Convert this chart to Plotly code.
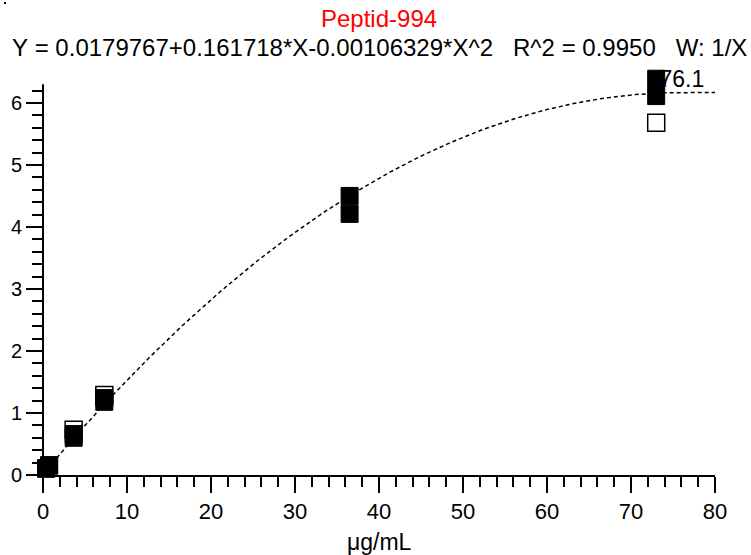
import numpy as np
import plotly.graph_objects as go

# ---- data ----
conc = [0.365, 0.365, 0.73, 0.73, 3.65, 3.65, 7.3, 7.3, 36.5, 36.5, 73.0, 73.0]
resp = [0.10, 0.11, 0.15, 0.16, 0.66, 0.60, 1.24, 1.18, 4.50, 4.21, 6.39, 6.11]
excl_conc = [3.65, 7.3, 73.0]
excl_resp = [0.73, 1.29, 5.68]

b0, b1, b2 = 0.0179767, 0.161718, -0.00106329
vertex_label = "76.1"
title_text = "Peptid-994"
eq_text = "Y = 0.0179767+0.161718*X-0.00106329*X^2   R^2 = 0.9950   W: 1/X"
x_title = "μg/mL"
x_ticks = [0, 10, 20, 30, 40, 50, 60, 70, 80]
y_ticks = [0, 1, 2, 3, 4, 5, 6]
y_minor = [round(0.2 * i, 1) for i in range(32) if i % 5 != 0]

# fitted curve (quadratic, held flat after the vertex)
x_vertex = -b1 / (2 * b2)
y_vertex = b0 + b1 * x_vertex + b2 * x_vertex ** 2
xf = np.linspace(0, 80, 400)
xe = np.minimum(xf, x_vertex)
yf = b0 + b1 * xe + b2 * xe ** 2

FONT = "Liberation Sans, Arial, sans-serif"
Y_TOP = 6.45

fig = go.Figure()
fig.add_trace(go.Scatter(x=xf, y=yf, mode="lines",
                         line=dict(color="black", width=1.5, dash="4px,3px"),
                         hoverinfo="skip", cliponaxis=False))
fig.add_trace(go.Scatter(x=[x_vertex], y=[y_vertex], mode="text",
                         text=[vertex_label], textposition="top center",
                         textfont=dict(family=FONT, size=23, color="black"),
                         cliponaxis=False))
fig.add_trace(go.Scatter(x=excl_conc, y=excl_resp, mode="markers",
                         marker=dict(symbol="square-open", size=17, color="black",
                                     line=dict(width=1.5, color="black")),
                         cliponaxis=False))
fig.add_trace(go.Scatter(x=conc, y=resp, mode="markers",
                         marker=dict(symbol="square", size=17, color="black",
                                     line=dict(width=1, color="black")),
                         cliponaxis=False))

axis_common = dict(linecolor="black", linewidth=2, showgrid=False, automargin=False,
                   zeroline=False, ticks="outside", tickcolor="black", tickwidth=2,
                   ticklen=16)

fig.update_xaxes(range=[0, 80], tickvals=x_ticks, showline=True, **axis_common,
                 tickfont=dict(family=FONT, size=22, color="black"),
                 minor=dict(dtick=2, ticks="outside", ticklen=10, tickwidth=2,
                            tickcolor="black", showgrid=False))
fig.update_yaxes(range=[0, Y_TOP], tickvals=y_ticks, showline=False, **axis_common,
                 tickfont=dict(family=FONT, size=20, color="black"),
                 minor=dict(tickvals=y_minor, ticks="outside", ticklen=10, tickwidth=2,
                            tickcolor="black", showgrid=False))
# y axis line (stops a little above the last minor tick)
fig.add_shape(type="line", xref="x domain", yref="y", x0=0, x1=0, y0=0, y1=6.3,
              line=dict(color="black", width=2))

fig.add_annotation(text=x_title, xref="paper", yref="paper", x=0.5, y=0,
                   yshift=-67, showarrow=False, yanchor="middle",
                   font=dict(family=FONT, size=23, color="black"))
fig.add_annotation(text=title_text, xref="paper", yref="paper", x=0.5, y=1,
                   yshift=57, showarrow=False, yanchor="middle",
                   font=dict(family=FONT, size=24, color="#ff0000"))
fig.add_annotation(text=eq_text.replace(" ", "&nbsp;"), xref="paper", yref="paper", x=0.5, y=1,
                   yshift=28, showarrow=False, yanchor="middle",
                   font=dict(family=FONT, size=24, color="black"))
fig.add_shape(type="rect", xref="paper", yref="paper",
              x0=(4 - 43) / 672, x1=(6 - 43) / 672,
              y0=(475 - 2) / 400, y1=(475 - 4) / 400,
              fillcolor="black", line=dict(width=0))

fig.update_layout(width=751, height=555, showlegend=False,
                  plot_bgcolor="white", paper_bgcolor="white",
                  margin=dict(l=43, r=36, t=75, b=80))
fig.write_html("out.html")
